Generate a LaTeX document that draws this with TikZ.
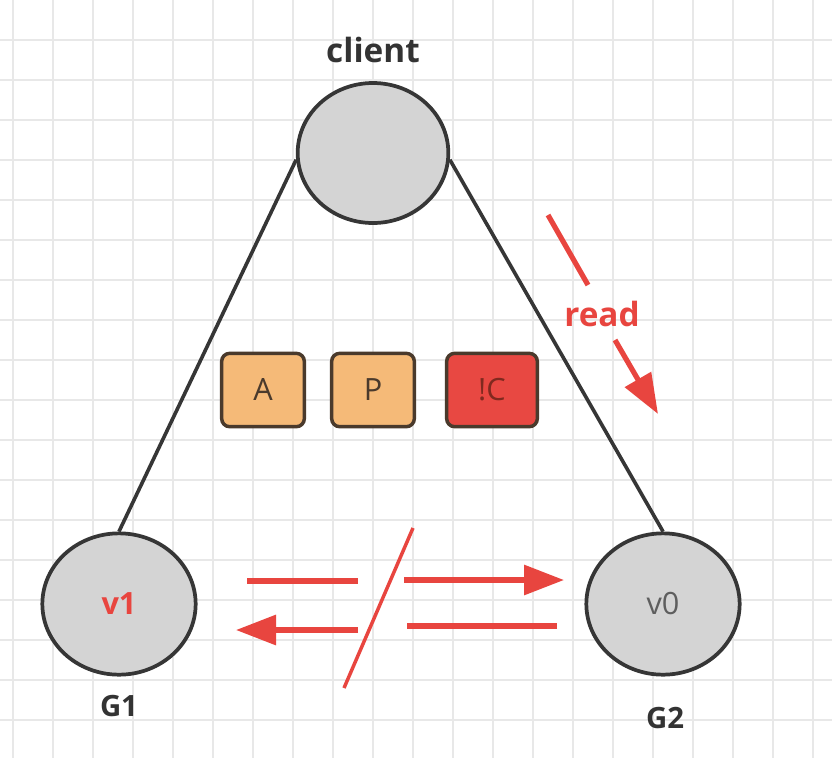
\documentclass[tikz,border=0pt]{standalone}
\usepackage{fontspec}
\setmainfont{Open Sans}
\usetikzlibrary{shapes.geometric}
\usetikzlibrary{arrows.meta}

\definecolor{gridgray}{HTML}{E8E8E8}
\definecolor{nodegray}{HTML}{D4D4D4}
\definecolor{linegray}{HTML}{363636}
\definecolor{cutred}{HTML}{E8453F}
\definecolor{tagorange}{HTML}{F5BA78}
\definecolor{tagred}{HTML}{E84842}
\definecolor{tagbrown}{HTML}{4A3A2C}
\definecolor{textgray}{HTML}{333333}
\definecolor{oldgray}{HTML}{5E5E5E}

\begin{document}
\begin{tikzpicture}[x=0.75pt,y=-0.75pt,>={Triangle[length=30pt,width=22pt]},
	peer/.style={ellipse,draw=linegray,fill=nodegray,line width=2.8pt,inner sep=0pt},
	tag/.style={rounded corners=6pt,draw=tagbrown,line width=2.6pt,minimum width=62pt,minimum height=55pt,inner sep=0pt,font=\fontsize{23}{27}\selectfont},
	link/.style={draw=linegray,line width=2.7pt},
	cut/.style={draw=cutred,line width=3.9pt},
	caption/.style={text=textgray,font=\bfseries\fontsize{22}{26}\selectfont}]
	%background and grid
	\fill[white] (0,0) rectangle (832,758);
	\useasboundingbox (0,0) rectangle (832,758);
	\foreach \gx in {13,53,...,813}
		\draw[gridgray,line width=1pt] (\gx,0) -- (\gx,758);
	\foreach \gy in {40,80,...,720}
		\draw[gridgray,line width=1pt] (0,\gy) -- (832,\gy);
	
	%nodes
	\node[peer,minimum width=113pt,minimum height=105pt] (client) at (373,153) {};
	\node[peer,minimum width=115pt,minimum height=106pt] (g1) at (119,604) {\textcolor{cutred}{\bfseries\fontsize{23}{27}\selectfont v1}};
	\node[peer,minimum width=115pt,minimum height=106pt] (g2) at (663,604) {\textcolor{oldgray}{\fontsize{23}{27}\selectfont v0}};
	
	%labels
	\node[caption,font=\bfseries\fontsize{25}{30}\selectfont] (clientlbl) at (373,50) {client};
	\node[caption] (g1lbl) at (119,706) {G1};
	\node[caption] (g2lbl) at (665,718) {G2};
	
	%A P !C tags
	\node[tag,fill=tagorange,text=tagbrown] (tA) at (263,390) {A};
	\node[tag,fill=tagorange,text=tagbrown] (tP) at (373,390) {P};
	\node[tag,fill=tagred,text=tagbrown!70!red,minimum width=68pt] (tC) at (492,390) {!C};
	
	%links client -- servers
	\draw[link] (client.185) -- (g1.north);
	\draw[link] (client.-5) -- (g2.north);
	
	%read arrow
	\coordinate (rd1) at (548,215);
	\coordinate (rd2) at (588,285);
	\coordinate (rd3) at (615,340);
	\coordinate (rd4) at (658,414);
	\node[text=cutred,font=\bfseries\fontsize{25}{30}\selectfont] (readlbl) at (602,314) {read};
	\draw[cut] (rd1) -- (rd2);
	\draw[cut,->] (rd3) -- (rd4);
	
	%sync arrows G1 <-> G2, cut in the middle
	\coordinate (up1) at (247,581);
	\coordinate (up2) at (358,581);
	\coordinate (up3) at (404,580);
	\coordinate (up4) at (564,580);
	\coordinate (dn1) at (557,626);
	\coordinate (dn2) at (407,626);
	\coordinate (dn3) at (358,630);
	\coordinate (dn4) at (236,630);
	\draw[cut] (up1) -- (up2);
	\draw[cut,->] (up3) -- (up4);
	\draw[cut] (dn1) -- (dn2);
	\draw[cut,->] (dn3) -- (dn4);
	
	%partition slash
	\coordinate (sl1) at (413,528);
	\coordinate (sl2) at (344,688);
	\draw[cut,line width=2.6pt] (sl1) -- (sl2);
\end{tikzpicture}
\end{document}
